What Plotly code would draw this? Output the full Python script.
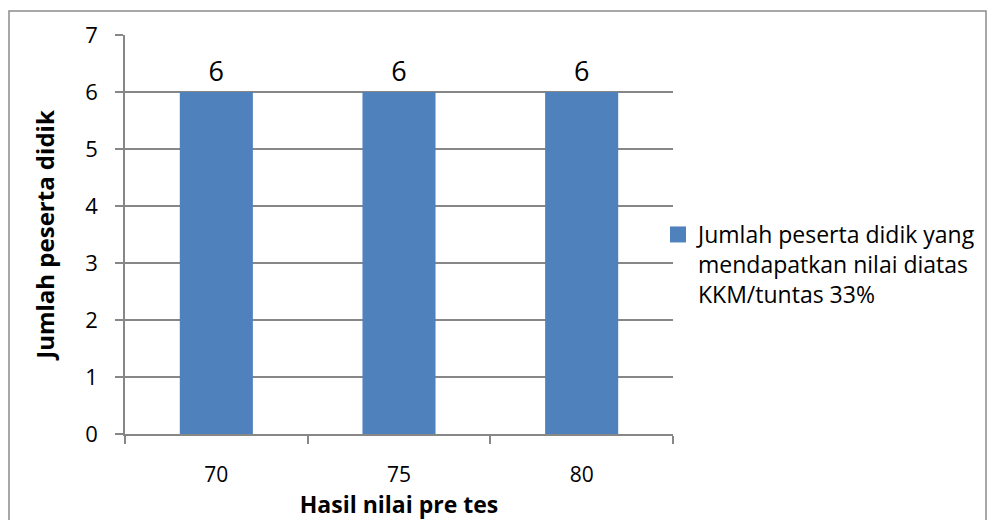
import plotly.graph_objects as go

# Jumlah peserta didik per nilai pre tes
categories = ["70", "75", "80"]
counts = [6, 6, 6]
series_name = "Jumlah peserta didik yang<br>mendapatkan nilai diatas<br>KKM/tuntas 33%"
y_ticks = [0, 1, 2, 3, 4, 5, 6, 7]

BAR = "#4f81bd"
GRID = "#878787"
FONT = "Open Sans"

fig = go.Figure()
fig.add_trace(go.Bar(
    x=categories,
    y=counts,
    name=series_name,
    marker=dict(color=BAR, line=dict(width=0)),
    text=[str(v) for v in counts],
    textposition="outside",
    textfont=dict(family=FONT, size=27, color="#000000"),
    cliponaxis=False,
    showlegend=False,
))
# legend key drawn as a larger square swatch for the series
fig.add_trace(go.Scatter(
    x=[None],
    y=[None],
    mode="markers",
    name=series_name,
    marker=dict(symbol="square", size=17, color=BAR),
    showlegend=True,
))

W, H = 987, 520
L, R, T, B = 125, 314, 35, 86
pw, ph = W - L - R, H - T - B

def px_x(p):
    return (p - L) / pw

def px_y(p):
    return (H - B - p) / ph

fig.update_layout(
    width=W,
    height=H,
    margin=dict(l=L, r=R, t=T, b=B, pad=0, autoexpand=False),
    paper_bgcolor="#ffffff",
    plot_bgcolor="#ffffff",
    bargap=0.6,
    font=dict(family=FONT, size=22, color="#000000"),
    showlegend=True,
    legend=dict(
        x=px_x(658),
        y=px_y(213),
        xanchor="left",
        yanchor="top",
        valign="top",
        itemsizing="trace",
        font=dict(family=FONT, size=23, color="#000000"),
        bgcolor="rgba(0,0,0,0)",
        itemwidth=30,
        tracegroupgap=0,
    ),
    xaxis=dict(
        type="category",
        showline=True,
        linecolor=GRID,
        linewidth=1.5,
        ticks="outside",
        tickson="boundaries",
        ticklen=8,
        tickcolor=GRID,
        tickwidth=1.5,
        showgrid=False,
        tickfont=dict(family=FONT, size=21),
        ticklabelstandoff=21,
        title=dict(text="<b>Hasil nilai pre tes</b>", font=dict(family=FONT, size=23), standoff=6),
    ),
    yaxis=dict(
        range=[0, 7],
        tickvals=y_ticks,
        showline=True,
        linecolor=GRID,
        linewidth=1.5,
        ticks="outside",
        ticklen=8,
        tickcolor=GRID,
        tickwidth=1.5,
        showgrid=True,
        gridcolor=GRID,
        gridwidth=1.5,
        zeroline=False,
        tickfont=dict(family=FONT, size=22),
        ticklabelstandoff=13,
        title=dict(text="<b>Jumlah peserta didik</b>", font=dict(family=FONT, size=24), standoff=24),
    ),
    shapes=[
        dict(
            type="rect",
            xref="paper", yref="paper",
            x0=px_x(9), x1=px_x(986),
            y0=px_y(530), y1=px_y(11),
            line=dict(color="#8c8c8c", width=1.5),
            fillcolor="rgba(0,0,0,0)",
            layer="below",
        )
    ],
)

fig.write_html("out.html")
